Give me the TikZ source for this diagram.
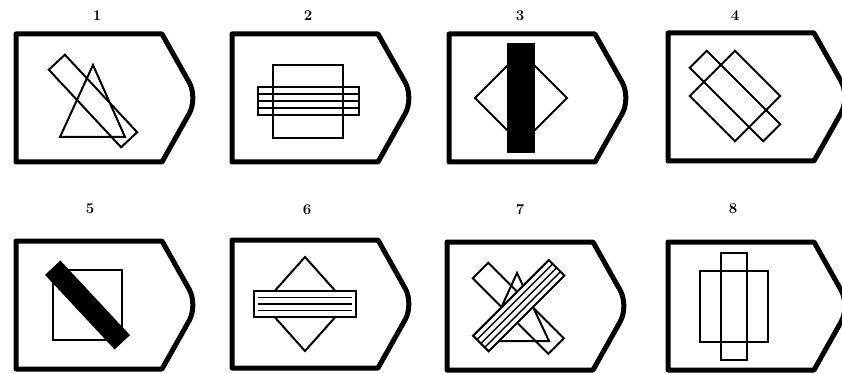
\documentclass[tikz,border=0pt]{standalone}
\tikzset{
  badge/.pic={
    \draw[line width=5pt,line join=round] (0,0) -- (146,0)
      [rounded corners=18pt] -- (182,64) [sharp corners] -- (146,128) -- (0,128) -- cycle;
  },
  figure/.style={line width=2pt},
  stripe/.style={line width=1.4pt},
  number/.style={font=\fontsize{15}{15}\selectfont\bfseries}
}

\begin{document}
\begin{tikzpicture}[x=1pt,y=-1pt]
  \useasboundingbox (0,0) rectangle (842,374);
  \clip (0,0) rectangle (842,374);
  % numbers
  \node[number] (n1) at (97,16) {1};
  \node[number] (n2) at (308,16) {2};
  \node[number] (n3) at (520,16) {3};
  \node[number] (n4) at (735,16) {4};
  \node[number] (n5) at (90,209) {5};
  \node[number] (n6) at (307,210) {6};
  \node[number] (n7) at (520,210) {7};
  \node[number] (n8) at (733,209) {8};
  % 1: triangle and bar
  \begin{scope}[shift={(16,34)}]
    \pic {badge};
    \draw[figure] (77,31) -- (109,103) -- (44,103) -- cycle;
    \draw[figure,shift={(77,67)},rotate=-47] (-53,-11) rectangle (53,11);
  \end{scope}
  % 2: square and striped bar
  \begin{scope}[shift={(232,34)}]
    \pic {badge};
    \draw[figure] (41,31) rectangle (111,104);
    \begin{scope}[shift={(76,67)}]
      \draw[figure] (-50.5,-14) rectangle (50.5,14);
      \foreach \s in {-1,0,1}
        \draw[stripe] (-50.5,7*\s) -- (50.5,7*\s);
    \end{scope}
  \end{scope}
  % 3: diamond and black bar
  \begin{scope}[shift={(449,34)}]
    \pic {badge};
    \draw[figure] (26,64) -- (72,18) -- (118,64) -- (72,110) -- cycle;
    \fill (58,9) rectangle (86,119);
  \end{scope}
  % 4: square and bar, turned
  \begin{scope}[shift={(668,33)}]
    \pic {badge};
    \draw[figure,shift={(67,63)},rotate=45] (-32,-32) rectangle (32,32);
    \draw[figure,shift={(67,63)},rotate=-45] (-52,-12) rectangle (52,12);
  \end{scope}
  % 5: square and black bar
  \begin{scope}[shift={(16,241)}]
    \pic {badge};
    \draw[figure] (37,29) rectangle (106,99);
    \fill[shift={(71.5,64)},rotate=-47] (-51,-10.5) rectangle (51,10.5);
  \end{scope}
  % 6: diamond and striped bar
  \begin{scope}[shift={(232,240)}]
    \pic {badge};
    \draw[figure] (31,64) -- (73,17) -- (115,64) -- (73,111) -- cycle;
    \begin{scope}[shift={(73,64)}]
      \draw[figure,fill=white] (-51,-13) rectangle (51,13);
      \foreach \s in {-1,0,1}
        \draw[stripe] (-47,6.5*\s) -- (47,6.5*\s);
    \end{scope}
  \end{scope}
  % 7: triangle, bar and striped bar
  \begin{scope}[shift={(447,242)}]
    \pic {badge};
    \draw[figure] (70,31) -- (102,99) -- (39,99) -- cycle;
    \draw[figure,shift={(71.3,66.3)},rotate=-45] (-53.5,-11) rectangle (53.5,11);
    \begin{scope}[shift={(71.7,63.7)},rotate=45]
      \draw[figure,fill=white] (-53.5,-11) rectangle (53.5,11);
      \foreach \s in {-1,0,1}
        \draw[stripe] (-53.5,5.5*\s) -- (53.5,5.5*\s);
    \end{scope}
  \end{scope}
  % 8: wide and tall rectangles
  \begin{scope}[shift={(668,242)}]
    \pic {badge};
    \draw[figure] (32,29) rectangle (100,100);
    \draw[figure] (53,11) rectangle (79,118);
  \end{scope}
\end{tikzpicture}
\end{document}
